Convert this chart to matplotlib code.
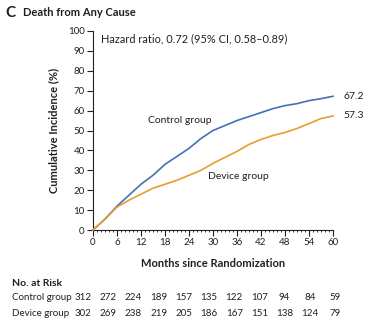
import numpy as np
import matplotlib
matplotlib.use("Agg")
import matplotlib.pyplot as plt
from matplotlib.ticker import MultipleLocator

# ====== data ======
months = [0, 3, 6, 9, 12, 15, 18, 21, 24, 27, 30, 33, 36, 39, 42, 45, 48, 51, 54, 57, 60]
control_pct = [0, 5.5, 12, 17.5, 23, 27.5, 33, 37, 41, 46, 50, 52.5,
               55, 57, 59, 61, 62.5, 63.5, 65, 66, 67.2]
device_pct = [0, 5.5, 11.5, 15, 18, 21, 23, 25, 27.5, 30, 33.5, 36.5,
              39.5, 43, 45.5, 47.5, 49, 51, 53.5, 56, 57.3]

risk_months = [0, 6, 12, 18, 24, 30, 36, 42, 48, 54, 60]
control_at_risk = [312, 272, 224, 189, 157, 135, 122, 107, 94, 84, 59]
device_at_risk = [302, 269, 238, 219, 205, 186, 167, 151, 138, 124, 79]

BLUE = "#4470b4"
ORANGE = "#e99d2c"
TEXT = "#231f20"
# ==================

plt.rcParams["font.family"] = ["Lato", "DejaVu Sans"]
plt.rcParams["text.color"] = TEXT
plt.rcParams["axes.labelcolor"] = TEXT
plt.rcParams["xtick.color"] = TEXT
plt.rcParams["ytick.color"] = TEXT

W, H = 378, 330
fig = plt.figure(figsize=(W / 100, H / 100), dpi=100)
ax = fig.add_axes([93 / W, 1 - 230 / H, 240 / W, 199 / H])

ax.plot(months, control_pct, color=BLUE, lw=1.2, clip_on=False, zorder=3)
ax.plot(months, device_pct, color=ORANGE, lw=1.2, clip_on=False, zorder=3)

ax.set_xlim(0, 60)
ax.set_ylim(0, 100)
ax.xaxis.set_major_locator(MultipleLocator(6))
ax.xaxis.set_minor_locator(MultipleLocator(1))
ax.yaxis.set_major_locator(MultipleLocator(10))
ax.tick_params(axis="both", which="major", direction="out", length=4,
               width=0.8, labelsize=7, pad=2)
ax.tick_params(axis="x", which="minor", direction="out", length=1.5, width=0.6)
for side in ("top", "right"):
    ax.spines[side].set_visible(False)
for side in ("left", "bottom"):
    ax.spines[side].set_linewidth(0.8)
    ax.spines[side].set_color(TEXT)

ax.set_xlabel("Months since Randomization", fontsize=8, fontweight="bold", labelpad=8)
ax.set_ylabel("Cumulative Incidence (%)", fontsize=8, fontweight="bold", labelpad=6)

# curve labels and end values
ax.text(13.7, 55, "Control group", fontsize=7.5, va="center", ha="left")
ax.text(28.7, 27, "Device group", fontsize=7.5, va="center", ha="left")
ax.text(62.5, control_pct[-1], f"{control_pct[-1]:.1f}", fontsize=7.5, va="center")
ax.text(62.5, device_pct[-1], f"{device_pct[-1]:.1f}", fontsize=7.5, va="center")
ax.text(2, 96, "Hazard ratio, 0.72 (95% CI, 0.58\u20130.89)", fontsize=7.9, va="center")

# panel title
fig.text(5 / W, 1 - 13 / H, "C", fontsize=11, fontweight="bold", va="center")
fig.text(23 / W, 1 - 13 / H, "Death from Any Cause", fontsize=8, fontweight="bold", va="center")

# number-at-risk table
fig.text(12 / W, 1 - 284 / H, "No. at Risk", fontsize=7.5, fontweight="bold", va="center")
rows = [("Control group", control_at_risk, 298), ("Device group", device_at_risk, 313)]
col_x = np.linspace(83, 335, len(risk_months))
for label, counts, ypx in rows:
    fig.text(12 / W, 1 - ypx / H, label, fontsize=7, va="center")
    for xpx, n in zip(col_x, counts):
        fig.text(xpx / W, 1 - ypx / H, str(n), fontsize=7, va="center", ha="center")

fig.savefig("out.png", dpi=100)
